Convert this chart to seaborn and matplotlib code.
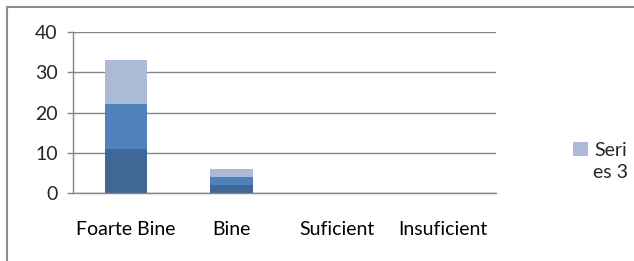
import matplotlib
matplotlib.use("Agg")
import matplotlib.pyplot as plt
from matplotlib.patches import Patch, Rectangle
import seaborn as sns
import numpy as np

categories = ["Foarte Bine", "Bine", "Suficient", "Insuficient"]
series1 = [11, 2, 0, 0]
series2 = [11, 2, 0, 0]
series3 = [11, 2, 0, 0]
legend_label = "Seri"
legend_wrap = "es 3"

dark = "#3F6897"
mid = "#4F81BD"
light = "#AABAD7"
grey = "#868686"

sns.set_style("white")
plt.rcParams['font.family'] = ['Lato', 'DejaVu Sans']
fs = 14

fig = plt.figure(figsize=(6.34, 2.61), dpi=100)
ax = fig.add_axes([73/634, 68/261, (496-73)/634, (193-32)/261])

b1 = np.array(series1)
b2 = b1 + np.array(series2)
kw = dict(width=0.4, saturation=1, linewidth=0, ax=ax)
sns.barplot(x=categories, y=series1, color=dark, **kw)
sns.barplot(x=categories, y=series2, bottom=b1, color=mid, **kw)
sns.barplot(x=categories, y=series3, bottom=b2, color=light, **kw)

ax.set_ylim(0, 40)
ax.set_xlim(-0.5, 3.5)
ax.set_yticks([0, 10, 20, 30, 40])
ax.yaxis.grid(True, color=grey, linewidth=1)
ax.set_axisbelow(True)
for s in ["top", "right"]:
    ax.spines[s].set_visible(False)
for s in ["left", "bottom"]:
    ax.spines[s].set_color(grey)
    ax.spines[s].set_linewidth(1)

ax.set_xticks(range(len(categories)))
ax.set_xticklabels(categories)
ax.set_xticks([-0.5, 0.5, 1.5, 2.5, 3.5], minor=True)
ax.tick_params(axis="x", which="major", length=0, pad=20, labelsize=fs, colors="black")
ax.tick_params(axis="x", which="minor", length=4, color=grey, width=1)
ax.tick_params(axis="y", length=4, color=grey, width=1, labelsize=fs, pad=7, left=True)
ax.set_xlabel("")
ax.set_ylabel("")

handles = [Patch(facecolor=light, edgecolor="none")]
ax.legend(handles, [legend_label], loc="center left", bbox_to_anchor=(500/423, (193-150)/161),
          frameon=False, fontsize=fs, handlelength=0.75, handleheight=0.75,
          handletextpad=0.35, borderpad=0, borderaxespad=0)
fig.text(593/634, (261-172)/261, legend_wrap, fontsize=fs, va="center", ha="left")

fig.add_artist(Rectangle((7/634, -0.2), 1.2, (261-7)/261 + 0.2, transform=fig.transFigure,
                         fill=False, edgecolor="#8C8C8C", linewidth=1.5))

fig.savefig("out.png", dpi=100)
